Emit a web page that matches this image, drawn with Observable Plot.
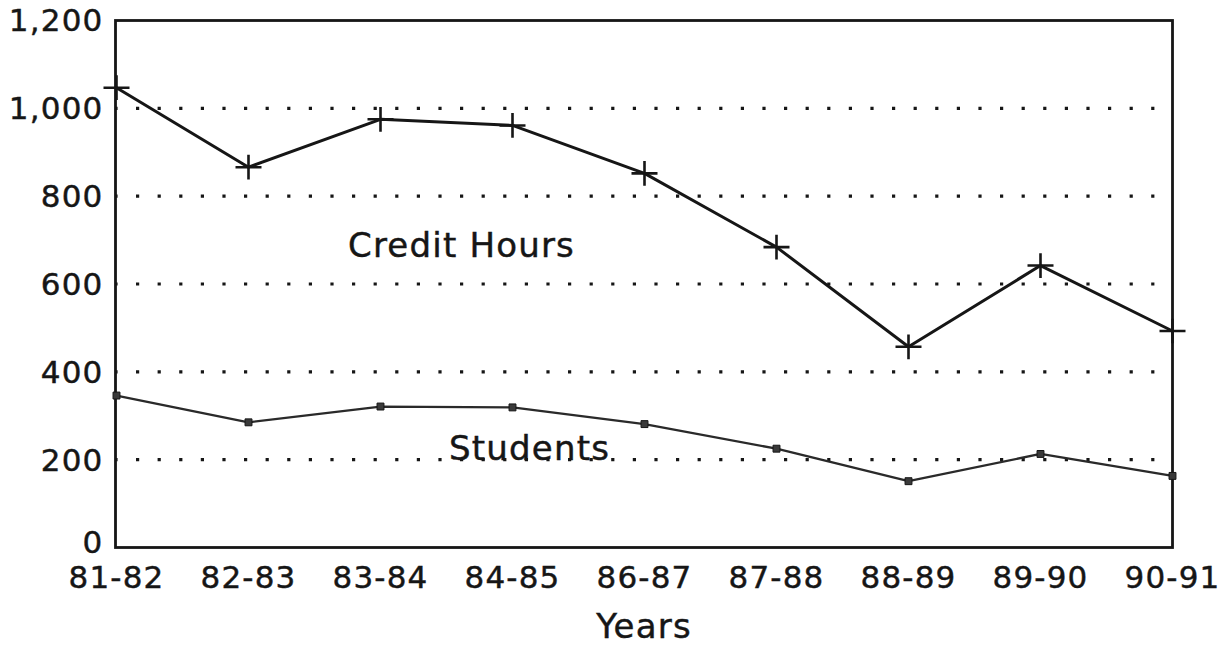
<!DOCTYPE html>
<html>
<head>
<meta charset="utf-8">
<script src="https://cdn.jsdelivr.net/npm/d3@7"></script>
<script src="https://cdn.jsdelivr.net/npm/@observablehq/plot@0.6"></script>
<style>
  html, body { margin: 0; padding: 0; background: #fff; }
  #chart svg { display: block; }
  #chart svg text { letter-spacing: 1.2px; stroke: #161616; stroke-width: 0.45px; }
</style>
</head>
<body>
<div id="chart"></div>
<script>
// ---- data ----
const years = ["81-82", "82-83", "83-84", "84-85", "86-87", "87-88", "88-89", "89-90", "90-91"];
const creditHours = [1047, 866, 975, 961, 852, 684, 457, 642, 493];
const students = [346, 285, 321, 319, 281, 225, 151, 213, 163];
const yTicks = [200, 400, 600, 800, 1000, 1200];
const yZeroTick = [0];
const gridValues = [200, 400, 600, 800, 1000];
const seriesLabels = ["Credit Hours", "Students"];
const seriesLabelYear = ["84-85", "84-85"];
const seriesLabelValue = [686, 225];

const creditData = years.map((y, i) => ({year: y, value: creditHours[i]}));
const studentData = years.map((y, i) => ({year: y, value: students[i]}));

const plusSymbol = {
  draw(ctx, size) {
    const r = Math.sqrt(size / Math.PI);
    ctx.moveTo(-r, 0); ctx.lineTo(r, 0);
    ctx.moveTo(0, -r * 0.95); ctx.lineTo(0, r * 0.95);
  }
};

const ink = "#161616";
const font = "'DejaVu Sans', sans-serif";

const chart = Plot.plot({
  width: 1228,
  height: 648,
  marginLeft: 115,
  marginRight: 56,
  marginTop: 20,
  marginBottom: 101,
  style: {fontFamily: font, background: "#fff", color: ink},
  x: {type: "point", domain: years, padding: 0},
  y: {domain: [0, 1200]},
  marks: [
    Plot.ruleY(gridValues, {stroke: ink, strokeWidth: 3.2, strokeDasharray: "3.2 18.4", strokeDashoffset: 0.6}),
    Plot.frame({stroke: ink, strokeWidth: 2.8}),
    Plot.axisY(yTicks, {tickSize: 0, tickPadding: 12, dy: 1, fontSize: 31, tickFormat: d3.format(","), label: null, fill: ink}),
    Plot.axisY(yZeroTick, {tickSize: 0, tickPadding: 12, dy: -4, fontSize: 31, tickFormat: d3.format(","), label: null, fill: ink}),
    Plot.axisX({tickSize: 0, tickPadding: 18, fontSize: 31, label: null, fill: ink}),
    Plot.text(["Years"], {frameAnchor: "bottom", dy: 90, fontSize: 34, fill: ink}),
    Plot.line(creditData, {x: "year", y: "value", stroke: ink, strokeWidth: 3}),
    Plot.dot(creditData, {x: "year", y: "value", symbol: plusSymbol, r: 13, fill: "none", stroke: ink, strokeWidth: 2.6}),
    Plot.line(studentData, {x: "year", y: "value", stroke: "#2a2a2a", strokeWidth: 2.3}),
    Plot.dot(studentData, {x: "year", y: "value", symbol: "square", r: 3.9, fill: "#3a3a3a", stroke: ink, strokeWidth: 1}),
    Plot.text([0], {x: () => seriesLabelYear[0], y: () => seriesLabelValue[0], text: () => seriesLabels[0], dx: -51, fontSize: 34, fill: ink}),
    Plot.text([1], {x: () => seriesLabelYear[1], y: () => seriesLabelValue[1], text: () => seriesLabels[1], dx: 17, fontSize: 34, fill: ink})
  ]
});
document.getElementById("chart").appendChild(chart);
</script>
</body>
</html>
